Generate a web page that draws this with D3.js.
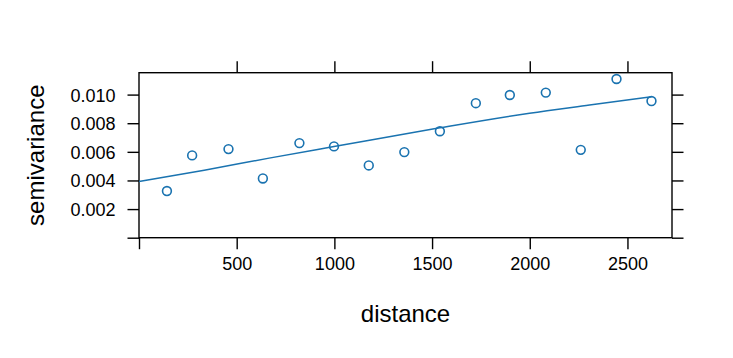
<!DOCTYPE html>
<html>
<head>
<meta charset="utf-8">
<script src="https://cdn.jsdelivr.net/npm/d3@7/dist/d3.min.js"></script>
<style>
  html, body { margin: 0; padding: 0; background: #ffffff; }
  svg { display: block; font-family: "Liberation Sans", Arial, sans-serif; }
</style>
</head>
<body>
<svg id="chart" width="733" height="358"></svg>
<script>
// Empirical semivariogram points
const distances = [143, 272, 458, 634, 821, 998, 1176, 1358, 1540, 1724, 1898, 2082, 2261, 2444, 2623];
const gammas = [0.00326, 0.00575, 0.00619, 0.00414, 0.00661, 0.00638, 0.00505, 0.00598, 0.00744, 0.00940, 0.00997, 0.01014, 0.00614, 0.01109, 0.00955];

// Fitted model curve
const modelDist = [0, 334, 666, 998, 1540, 1999, 2306, 2623];
const modelGamma = [0.00392, 0.00472, 0.00556, 0.00637, 0.00768, 0.00870, 0.00927, 0.00985];

// Tick values and labels
const xTicks = [0, 500, 1000, 1500, 2000, 2500];
const xTickLabels = ["", "500", "1000", "1500", "2000", "2500"];
const yTicks = [0, 0.002, 0.004, 0.006, 0.008, 0.010];
const yTickLabels = ["", "0.002", "0.004", "0.006", "0.008", "0.010"];

const xDomain = [0, 2728];
const yDomain = [0, 0.01153];

const color = "#1a73b0";
const svg = d3.select("#chart");

const pL = 139, pR = 672, pT = 72.7, pB = 237.7;
const x = d3.scaleLinear().domain(xDomain).range([pL, pR]);
const y = d3.scaleLinear().domain(yDomain).range([pB, pT]);

const tickLen = 11.5;

// Bottom axis
const xAxisB = d3.axisBottom(x).tickValues(xTicks)
  .tickFormat((d, i) => xTickLabels[i]).tickSizeInner(tickLen).tickSizeOuter(0).tickPadding(8);
const gB = svg.append("g").attr("transform", `translate(0,${pB})`).call(xAxisB);

// Top axis (no labels, no tick at 0)
const xAxisT = d3.axisTop(x).tickValues(xTicks.slice(1))
  .tickFormat("").tickSizeInner(tickLen).tickSizeOuter(0);
const gT = svg.append("g").attr("transform", `translate(0,${pT})`).call(xAxisT);

// Left axis
const yAxisL = d3.axisLeft(y).tickValues(yTicks)
  .tickFormat((d, i) => yTickLabels[i]).tickSizeInner(tickLen).tickSizeOuter(0).tickPadding(12);
const gL = svg.append("g").attr("transform", `translate(${pL},0)`).call(yAxisL);

// Right axis
const yAxisR = d3.axisRight(y).tickValues(yTicks)
  .tickFormat("").tickSizeInner(tickLen).tickSizeOuter(0);
const gR = svg.append("g").attr("transform", `translate(${pR},0)`).call(yAxisR);

[gB, gT, gL, gR].forEach(g => {
  g.select(".domain").remove();
  g.selectAll(".tick line").attr("stroke", "#000").attr("stroke-width", 1.4);
  g.selectAll(".tick text").attr("fill", "#000").style("font-size", "18px")
   .style("font-family", '"Liberation Sans", Arial, sans-serif');
});
gL.selectAll(".tick text").attr("dy", "0.36em");
gB.selectAll(".tick text").attr("dy", "0.71em");

// Panel border
svg.append("rect")
  .attr("x", pL).attr("y", pT)
  .attr("width", pR - pL).attr("height", pB - pT)
  .attr("fill", "none").attr("stroke", "#000").attr("stroke-width", 1.4);

// Model line
const lineData = modelDist.map((d, i) => [d, modelGamma[i]]);
svg.append("path")
  .datum(lineData)
  .attr("d", d3.line().x(d => x(d[0])).y(d => y(d[1])).curve(d3.curveMonotoneX))
  .attr("fill", "none").attr("stroke", color).attr("stroke-width", 1.5);

// Points
svg.append("g").selectAll("circle")
  .data(distances.map((d, i) => [d, gammas[i]]))
  .join("circle")
  .attr("cx", d => x(d[0])).attr("cy", d => y(d[1]))
  .attr("r", 4.4)
  .attr("fill", "none").attr("stroke", color).attr("stroke-width", 1.6);

// Axis titles
svg.append("text")
  .attr("x", (pL + pR) / 2).attr("y", 322)
  .attr("text-anchor", "middle")
  .style("font-size", "24px").attr("fill", "#000")
  .text("distance");

svg.append("text")
  .attr("transform", `translate(43.5,${(pT + pB) / 2}) rotate(-90)`)
  .attr("text-anchor", "middle")
  .style("font-size", "24px").attr("fill", "#000")
  .text("semivariance");
</script>
</body>
</html>
